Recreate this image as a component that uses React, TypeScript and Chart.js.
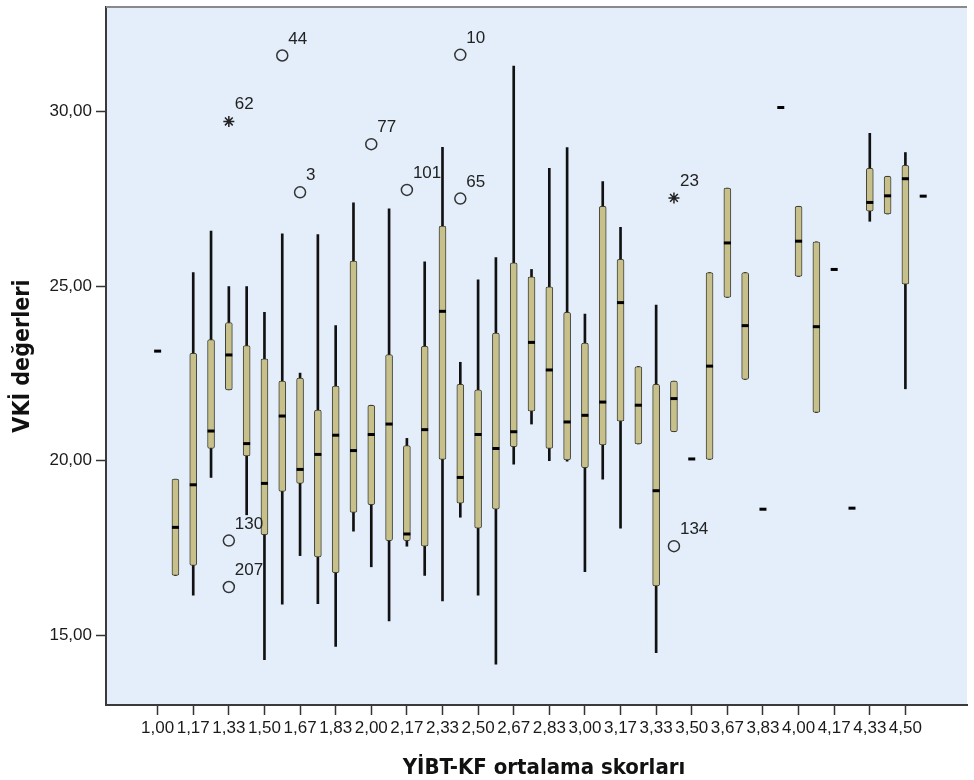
import React, { useEffect, useRef } from 'react';
import { Chart, registerables } from 'chart.js';

Chart.register(...registerables);

// ---- Data ----
const xTickLabels = ['1,00', '1,17', '1,33', '1,50', '1,67', '1,83', '2,00', '2,17', '2,33', '2,50', '2,67', '2,83', '3,00', '3,17', '3,33', '3,50', '3,67', '3,83', '4,00', '4,17', '4,33', '4,50'];
const yTickValues = [15, 20, 25, 30];

// one entry per category (44 categories, only every second one is labelled)
const whiskerLow = [null, 16.71, 16.15, 19.52, 22.03, 18.45, 14.30, 15.89, 17.28, 15.90, 14.68, 17.98, 16.96, 15.41, 17.55, 16.71, 15.98, 18.38, 16.15, 14.17, 19.90, 21.05, 20.00, 19.99, 16.82, 19.47, 18.07, 20.48, 14.50, 20.83, null, 20.04, 24.68, 22.33, null, null, 25.28, 21.38, null, null, 26.86, 27.07, 22.06, null];
const boxLow = [null, 16.71, 17.00, 20.35, 22.03, 20.14, 17.88, 19.12, 19.35, 17.24, 16.79, 18.52, 18.74, 17.71, 17.71, 17.55, 20.04, 18.78, 18.07, 18.61, 20.40, 21.42, 20.35, 20.02, 19.80, 20.45, 21.13, 20.48, 16.41, 20.83, null, 20.04, 24.68, 22.33, null, null, 25.28, 21.38, null, null, 27.15, 27.07, 25.06, null];
const medians = [23.14, 18.09, 19.31, 20.85, 23.03, 20.49, 19.35, 21.28, 19.75, 20.18, 20.73, 20.29, 20.75, 21.05, 17.90, 20.89, 24.28, 19.52, 20.75, 20.35, 20.83, 23.39, 22.60, 21.11, 21.30, 21.68, 24.53, 21.59, 19.14, 21.78, 20.05, 22.71, 26.24, 23.87, 18.61, 30.12, 26.29, 23.84, 25.48, 18.64, 27.40, 27.59, 28.08, 27.58];
const boxHigh = [null, 19.47, 23.08, 23.47, 23.96, 23.30, 22.92, 22.28, 22.37, 21.45, 22.14, 25.72, 21.59, 23.04, 20.43, 23.28, 26.72, 22.19, 22.03, 23.66, 25.67, 25.27, 24.98, 24.25, 23.37, 27.29, 25.77, 22.70, 22.19, 22.28, null, 25.39, 27.81, 25.39, null, null, 27.29, 26.27, null, null, 28.38, 28.15, 28.46, null];
const whiskerHigh = [null, 19.47, 25.39, 26.58, 24.99, 24.99, 24.25, 26.50, 22.51, 26.48, 23.87, 27.39, 21.59, 27.22, 20.64, 25.70, 28.98, 22.82, 25.18, 25.82, 31.31, 25.48, 28.38, 28.97, 24.20, 28.00, 26.69, 22.70, 24.46, 22.28, null, 25.39, 27.81, 25.39, null, null, 27.29, 26.27, null, null, 29.38, 28.15, 28.83, null];

// outliers (circles) and extremes (stars)
const outlierCats = [4, 4, 7, 8, 12, 14, 17, 17, 29];
const outlierValues = [17.71, 16.38, 31.61, 27.69, 29.07, 27.76, 31.63, 27.51, 17.55];
const outlierIds = ['130', '207', '44', '3', '77', '101', '10', '65', '134'];
const extremeCats = [4, 29];
const extremeValues = [29.72, 27.53];
const extremeIds = ['62', '23'];

const xTitle = 'YİBT-KF ortalama skorları';
const yTitle = 'VKİ değerleri';

const TICK_FONT = { family: "'Liberation Sans', Arial, sans-serif", size: 17 };
const TITLE_FONT = { family: "'DejaVu Sans Condensed', 'DejaVu Sans', sans-serif", size: 22, weight: 'bold' as const };

export default function App() {
  const ref = useRef<HTMLCanvasElement | null>(null);

  useEffect(() => {
    if (!ref.current) return;
    const cats = medians.map((_, i) => i);
    const withBox = cats.filter((i) => boxLow[i] !== null && boxHigh[i] !== null);

    const whiskerData = withBox.map((i) => ({ x: i, y: [whiskerLow[i], whiskerHigh[i]] }));
    const boxData = withBox.map((i) => ({ x: i, y: [boxLow[i], boxHigh[i]] }));
    const medianData = cats.map((i) => ({ x: i, y: medians[i] }));
    const outlierData = outlierCats.map((c, k) => ({ x: c, y: outlierValues[k] }));
    const extremeData = extremeCats.map((c, k) => ({ x: c, y: extremeValues[k] }));

    const frame = {
      id: 'frame',
      beforeDraw(chart: any) {
        const { ctx, chartArea: a } = chart;
        ctx.save();
        ctx.fillStyle = '#ffffff';
        ctx.fillRect(0, 0, chart.width, chart.height);
        ctx.fillStyle = '#E3EEFA';
        ctx.fillRect(a.left, a.top, a.right - a.left, a.bottom - a.top);
        ctx.restore();
      },
      afterDraw(chart: any) {
        const { ctx, chartArea: a } = chart;
        ctx.save();
        ctx.strokeStyle = '#8a8a8a';
        ctx.lineWidth = 2;
        ctx.beginPath();
        ctx.moveTo(a.left, a.top);
        ctx.lineTo(a.right, a.top);
        ctx.stroke();
        // x-axis title, centred on the full (cropped) plot frame
        ctx.font = `${TITLE_FONT.weight} ${TITLE_FONT.size}px ${TITLE_FONT.family}`;
        ctx.fillStyle = '#111';
        ctx.textAlign = 'center';
        ctx.textBaseline = 'alphabetic';
        ctx.fillText(xTitle, a.left + 438, chart.height - 6);
        ctx.restore();
      },
    };

    const pointLabels = {
      id: 'pointLabels',
      afterDatasetsDraw(chart: any) {
        const { ctx } = chart;
        ctx.save();
        ctx.font = `${TICK_FONT.size}px ${TICK_FONT.family}`;
        ctx.fillStyle = '#222';
        ctx.textAlign = 'left';
        ctx.textBaseline = 'alphabetic';
        const draw = (dsIndex: number, ids: string[]) => {
          const meta = chart.getDatasetMeta(dsIndex);
          meta.data.forEach((el: any, k: number) => {
            ctx.fillText(ids[k], el.x + 6, el.y - 12);
          });
        };
        draw(3, outlierIds);
        draw(4, extremeIds);
        ctx.restore();
      },
    };

    const chart = new Chart(ref.current, {
      type: 'bar',
      data: {
        datasets: [
          {
            type: 'bar',
            data: whiskerData as any,
            backgroundColor: '#111111',
            borderWidth: 0,
            barThickness: 2,
            grouped: false,
            order: 4,
          } as any,
          {
            type: 'bar',
            data: boxData as any,
            backgroundColor: '#C8C08A',
            borderColor: '#404038',
            borderWidth: 1,
            borderSkipped: false,
            borderRadius: 2,
            barThickness: 7,
            grouped: false,
            order: 3,
          } as any,
          {
            type: 'scatter',
            data: medianData as any,
            pointStyle: 'line',
            pointRadius: 3.5,
            borderColor: '#000000',
            pointBorderWidth: 3,
            borderWidth: 3,
            showLine: false,
            order: 2,
          } as any,
          {
            type: 'scatter',
            data: outlierData as any,
            pointStyle: 'circle',
            pointRadius: 5.5,
            backgroundColor: 'rgba(0,0,0,0)',
            borderColor: '#333333',
            borderWidth: 1.5,
            showLine: false,
            order: 1,
          } as any,
          {
            type: 'scatter',
            data: extremeData as any,
            pointStyle: 'star',
            pointRadius: 5.5,
            backgroundColor: 'rgba(0,0,0,0)',
            borderColor: '#222222',
            borderWidth: 1.5,
            showLine: false,
            order: 0,
          } as any,
        ],
      },
      options: {
        animation: false,
        responsive: false,
        maintainAspectRatio: false,
        layout: { padding: { top: 1, left: 0, right: 0, bottom: 0 } },
        plugins: {
          legend: { display: false },
          tooltip: { enabled: false },
        },
        scales: {
          x: {
            type: 'linear',
            min: -2.9,
            max: 45.46,
            offset: false,
            grid: { offset: false, drawOnChartArea: false, drawTicks: true, tickLength: 10, tickColor: '#333', tickWidth: 1.5 },
            border: { display: true, color: '#3a3a3a', width: 2 },
            afterBuildTicks(scale: any) {
              scale.ticks = xTickLabels.map((_, k) => ({ value: k * 2 }));
            },
            afterFit(scale: any) {
              scale.height = 75;
              scale.paddingLeft = 0;
              scale.paddingRight = 0;
            },
            ticks: {
              autoSkip: false,
              maxRotation: 0,
              minRotation: 0,
              padding: 3,
              color: '#1a1a1a',
              font: TICK_FONT,
              callback: (v: any) => xTickLabels[Math.round(Number(v) / 2)] ?? '',
            },
            title: { display: false },
          } as any,
          y: {
            type: 'linear',
            min: 13,
            max: 33,
            grid: { drawOnChartArea: false, drawTicks: true, tickLength: 10, tickColor: '#333', tickWidth: 1.5 },
            border: { display: true, color: '#3a3a3a', width: 2 },
            afterBuildTicks(scale: any) {
              scale.ticks = yTickValues.map((v) => ({ value: v }));
            },
            afterFit(scale: any) {
              scale.width = 106;
              scale.paddingTop = 0;
              scale.paddingBottom = 0;
            },
            ticks: {
              padding: 4,
              color: '#1a1a1a',
              font: TICK_FONT,
              callback: (v: any) => Number(v).toFixed(2).replace('.', ','),
            },
            title: { display: true, text: yTitle, color: '#111', font: { ...TITLE_FONT, size: 23 }, padding: { top: 9, bottom: 0 } },
          } as any,
        },
      },
      plugins: [frame, pointLabels],
    });

    return () => chart.destroy();
  }, []);

  return (
    <div style={{ position: 'absolute', left: 0, top: 0, width: 974, height: 780 }}>
      <canvas ref={ref} width={974} height={780} style={{ width: 974, height: 780, display: 'block' }} />
    </div>
  );
}
